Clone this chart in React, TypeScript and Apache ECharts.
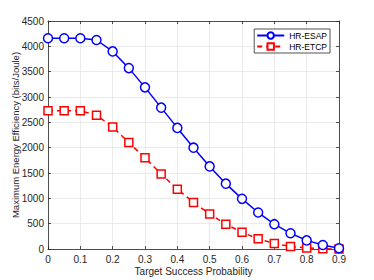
import React, { useEffect, useRef } from "react";
import * as echarts from "echarts";

const xValues = [0, 0.05, 0.1, 0.15, 0.2, 0.25, 0.3, 0.35, 0.4, 0.45, 0.5, 0.55, 0.6, 0.65, 0.7, 0.75, 0.8, 0.85, 0.9];
const esap = [4160, 4160, 4160, 4125, 3900, 3570, 3190, 2790, 2390, 2000, 1630, 1290, 990, 720, 490, 310, 170, 80, 15];
const etcp = [2730, 2730, 2730, 2640, 2410, 2100, 1800, 1480, 1180, 920, 690, 490, 330, 200, 110, 50, 20, 5, 0];

const FONT = "Liberation Sans, Arial, sans-serif";
const AX = "#262626";

export default function App() {
  const ref = useRef<HTMLDivElement>(null);
  useEffect(() => {
    const chart = echarts.init(ref.current!, null, { renderer: "svg" });
    const axisCommon = {
      axisLine: { show: true, onZero: false, lineStyle: { color: AX, width: 0.8 } },
      axisTick: { show: true, inside: true, length: 3, lineStyle: { color: AX, width: 0.8 } },
      axisLabel: { color: AX, fontSize: 10, fontFamily: FONT },
    };
    chart.setOption({
      animation: false,
      backgroundColor: "#ffffff",
      grid: { left: 48, right: 35, top: 21, bottom: 31, containLabel: false, outerBoundsMode: "none" },
      legend: {
        right: 44,
        top: 29,
        orient: "vertical",
        itemWidth: 27,
        itemHeight: 8,
        itemGap: 2,
        padding: [2, 3, 2, 2],
        borderColor: AX,
        borderWidth: 0.8,
        backgroundColor: "#ffffff",
        textStyle: { fontSize: 8.5, fontFamily: FONT, color: "#000" },
        data: ["HR-ESAP", "HR-ETCP"],
      },
      xAxis: [
        {
          type: "value",
          min: 0,
          max: 0.9,
          interval: 0.1,
          name: "Target Success Probability",
          nameLocation: "middle",
          nameGap: 17,
          nameMoveOverlap: false,
          nameTextStyle: { fontSize: 10, fontFamily: FONT, color: AX },
          ...axisCommon,
          axisLabel: { ...axisCommon.axisLabel, margin: 5, formatter: (v: number) => (v === 0 ? "0" : String(Math.round(v * 10) / 10)) },
          splitLine: { show: true, lineStyle: { color: "#e6e6e6", width: 0.8 } },
        },
        {
          type: "value",
          position: "top",
          min: 0,
          max: 0.9,
          interval: 0.1,
          ...axisCommon,
          axisLabel: { show: false },
          splitLine: { show: false },
        },
      ],
      yAxis: [
        {
          type: "value",
          min: 0,
          max: 4500,
          interval: 500,
          name: "Maximum Energy Efficiency (bits/Joule)",
          nameLocation: "middle",
          nameGap: 28,
          nameMoveOverlap: false,
          nameTextStyle: { fontSize: 9.5, fontFamily: FONT, color: AX },
          ...axisCommon,
          axisLabel: { ...axisCommon.axisLabel, margin: 4, formatter: (v: number) => String(v) },
          splitLine: { show: true, lineStyle: { color: "#e6e6e6", width: 0.8 } },
        },
        {
          type: "value",
          position: "right",
          min: 0,
          max: 4500,
          interval: 500,
          ...axisCommon,
          axisLabel: { show: false },
          splitLine: { show: false },
        },
      ],
      series: [
        {
          name: "HR-ESAP",
          type: "line",
          data: xValues.map((x, i) => [x, esap[i]]),
          symbol: "circle",
          symbolSize: 9,
          showAllSymbol: true,
          lineStyle: { color: "#0000ff", width: 1.5 },
          itemStyle: { color: "#ffffff", borderColor: "#0000ff", borderWidth: 1.5 },
          z: 3,
        },
        {
          name: "HR-ETCP",
          type: "line",
          data: xValues.map((x, i) => [x, etcp[i]]),
          symbol: "rect",
          symbolSize: 8,
          showAllSymbol: true,
          lineStyle: { color: "#ff0000", width: 1.5, type: [5, 4] },
          itemStyle: { color: "#ffffff", borderColor: "#ff0000", borderWidth: 1.5 },
          z: 2,
        },
      ],
    });
    return () => chart.dispose();
  }, []);
  return <div ref={ref} style={{ position: "fixed", left: 0, top: 0, width: 374, height: 280 }} />;
}
